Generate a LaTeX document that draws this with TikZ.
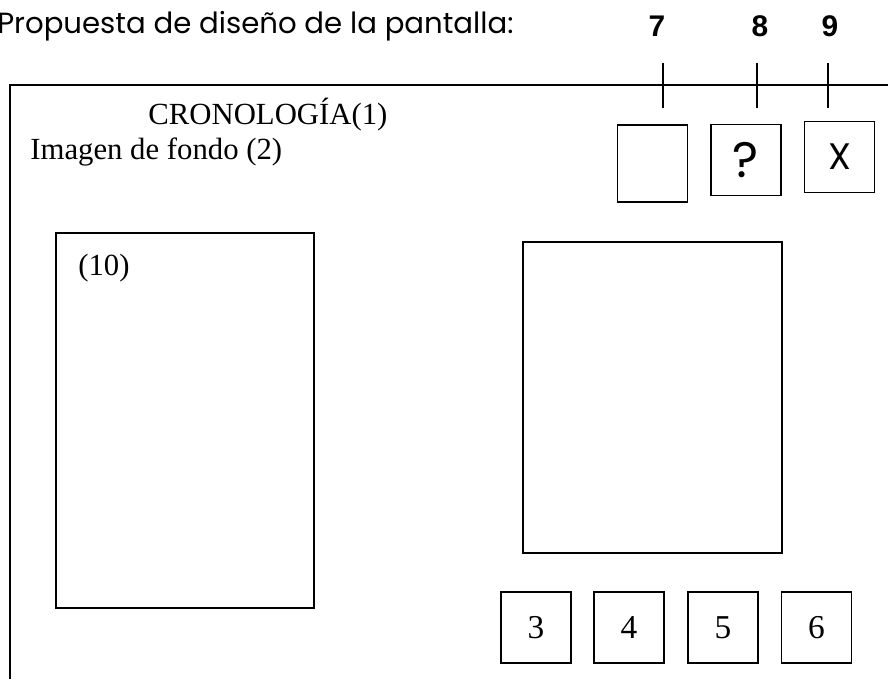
\documentclass[tikz,border=0pt]{standalone}
\usepackage{fontspec}
\setmainfont{Liberation Serif}
\newfontfamily\gothicfont{Poppins}
\newfontfamily\arialfont{Liberation Sans}
\usetikzlibrary{positioning}

\begin{document}
\begin{tikzpicture}[x=0.02cm,y=-0.02cm]
    \pgfmathsetmacro{\framewidth}{1.1}
    \pgfmathsetmacro{\boxwidth}{0.8}
    \providecommand{\titlefontsize}{\fontsize{16.6pt}{18pt}\selectfont}
    \providecommand{\labelfontsize}{\fontsize{17.5pt}{19pt}\selectfont}
    \providecommand{\numberfontsize}{\fontsize{17pt}{19pt}\selectfont}
    \tikzset{
        btn/.style={draw,line width=\boxwidth pt,minimum width=1.4cm,minimum height=1.42cm,inner sep=0,font=\fontsize{19pt}{21pt}\selectfont},
        topbtn/.style={btn,font=\gothicfont\fontsize{21pt}{23pt}\selectfont},
        txt/.style={inner sep=0,anchor=base west,font=\labelfontsize},
        num/.style={inner sep=0,anchor=base,font=\arialfont\bfseries\numberfontsize},
    }
    \useasboundingbox (0,0) rectangle (888,679);
    % pantalla
    \draw[line width=\framewidth pt] (10,679) -- (10,85) -- (900,85);
    \node[txt,font=\gothicfont\titlefontsize] (titulo) at (-3,34) {Propuesta de diseño de la pantalla:};
    \node[txt] (crono) at (148,124) {CRONOLOGÍA(1)};
    \node[txt] (fondo) at (30,159) {Imagen de fondo (2)};
    % paneles
    \draw[line width=\boxwidth pt] (56,233) rectangle (314,608);
    \node[txt] (diez) at (78,275) {(10)};
    \draw[line width=\boxwidth pt] (523,242) rectangle (782,553);
    % botones de arriba
    \node[btn,minimum height=1.54cm] (b7) at (652.5,163.5) {};
    \node[topbtn] (b8) at (746,160) {\scalebox{1.35}{?}};
    \node[topbtn] (b9) at (839.5,157) {X};
    % botones de abajo
    \node[btn] (b3) at (536,627.5) {3};
    \node[btn] (b4) at (629,627.5) {4};
    \node[btn] (b5) at (723,627.5) {5};
    \node[btn] (b6) at (816.5,627.5) {6};
    % marcas
    \foreach \name/\x in {7/663,8/757,9/828}{
        \draw[line width=\boxwidth pt] (\x,63) -- (\x,108);
    }
    \node[num] (n7) at (657,37) {7};
    \node[num] (n8) at (760,37) {8};
    \node[num] (n9) at (830,37) {9};
\end{tikzpicture}
\end{document}
